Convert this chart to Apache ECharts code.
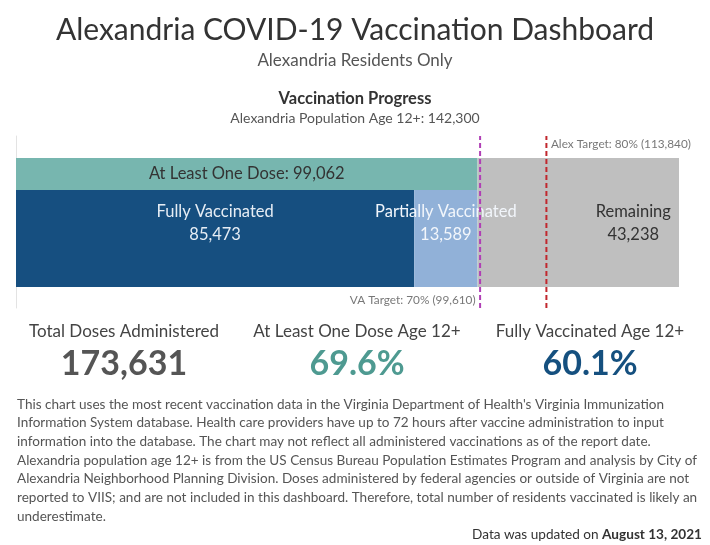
<!DOCTYPE html>
<html>
<head>
<meta charset="utf-8">
<script src="https://cdn.jsdelivr.net/npm/echarts@6/dist/echarts.min.js"></script>
<style>
html,body{margin:0;padding:0;background:#fff;}
#chart{width:710px;height:545px;}
</style>
</head>
<body>
<div id="chart"></div>
<script>
// ---- Data ----
const population = 142300;
const atLeastOneDose = [99062];
const fullyVaccinated = [85473];
const partiallyVaccinated = [13589];
const remaining = [43238];
const targetNames = ['VA Target: 70%', 'Alex Target: 80%'];
const targetValues = [99610, 113840];
const totalDoses = 173631;
const kpiLabels = ['Total Doses Administered', 'At Least One Dose Age 12+', 'Fully Vaccinated Age 12+'];
const updatedDate = 'August 13, 2021';

const FONT = 'Lato';
const fmt = v => v.toLocaleString('en-US');
const pct = v => (v / population * 100).toFixed(1) + '%';

const kpiValues = [fmt(totalDoses), pct(atLeastOneDose[0]), pct(fullyVaccinated[0])];
const kpiColors = ['#555555', '#4e9a91', '#15507f'];
const kpiX = [124, 357, 590];

const footnote = [
  "This chart uses the most recent vaccination data in the Virginia Department of Health's Virginia Immunization",
  "Information System database. Health care providers have up to 72 hours after vaccine administration to input",
  "information into the database. The chart may not reflect all administered vaccinations as of the report date.",
  "Alexandria population age 12+ is from the US Census Bureau Population Estimates Program and analysis by City of",
  "Alexandria Neighborhood Planning Division. Doses administered by federal agencies or outside of Virginia are not",
  "reported to VIIS; and are not included in this dashboard. Therefore, total number of residents vaccinated is likely an",
  "underestimate."
].join('\n');

const chart = echarts.init(document.getElementById('chart'), null, {renderer: 'canvas'});

const titles = [
  {text: 'Alexandria COVID-19 Vaccination Dashboard', left: 'center', top: 15,
   textStyle: {fontFamily: FONT, fontSize: 30, fontWeight: 'normal', color: '#333'}},
  {text: 'Alexandria Residents Only', left: 'center', top: 52,
   textStyle: {fontFamily: FONT, fontSize: 17, fontWeight: 'normal', color: '#555'}},
  {text: 'Vaccination Progress', left: 'center', top: 90,
   textStyle: {fontFamily: FONT, fontSize: 16.5, fontWeight: 'bold', color: '#333'}},
  {text: 'Alexandria Population Age 12+: ' + fmt(population), left: 'center', top: 111,
   textStyle: {fontFamily: FONT, fontSize: 14, fontWeight: 'normal', color: '#555'}},
  {text: footnote, left: 17, top: 395,
   textStyle: {fontFamily: FONT, fontSize: 13.55, fontWeight: 'normal', color: '#555', lineHeight: 18.65}},
  {text: '{a|Data was updated on }{b|' + updatedDate + '}', right: 8, top: 528,
   textStyle: {fontWeight: 'normal', rich: {
     a: {fontFamily: FONT, fontSize: 13.6, color: '#333', fontWeight: 'normal'},
     b: {fontFamily: FONT, fontSize: 13.6, color: '#333', fontWeight: 'bold'}
   }}}
];
kpiLabels.forEach((l, i) => {
  titles.push({text: l, left: kpiX[i], top: 323, textAlign: 'center',
    textStyle: {fontFamily: FONT, fontSize: 17, fontWeight: 'normal', color: '#444'}});
  titles.push({text: kpiValues[i], left: kpiX[i], top: 347, textAlign: 'center',
    textStyle: {fontFamily: FONT, fontSize: 34, fontWeight: 'bold', color: kpiColors[i]}});
});
titles.forEach(t => { t.padding = 0; });

const GL = 16, GW = 663;
const barLabel = (color, offset) => ({show: true, position: 'inside', color: color,
  fontFamily: FONT, fontSize: 16.5, lineHeight: 23, offset: offset});

const option = {
  animation: false,
  title: titles,
  grid: [
    {left: GL, width: GW, top: 158, height: 32},
    {left: GL, width: GW, top: 190, height: 97},
    {left: GL, width: GW, top: 136, height: 172}
  ],
  xAxis: [0, 1, 2].map(i => ({type: 'value', gridIndex: i, min: 0, max: population, show: false})),
  yAxis: [
    {type: 'category', gridIndex: 0, data: ['At Least One Dose'], show: false},
    {type: 'category', gridIndex: 1, data: ['Vaccinated'], show: false},
    {type: 'value', gridIndex: 2, min: 0, max: 1, axisLine: {show: true, lineStyle: {color: '#e3e3e3', width: 1}},
     axisTick: {show: false}, axisLabel: {show: false}, splitLine: {show: false}}
  ],
  series: [
    {type: 'bar', xAxisIndex: 0, yAxisIndex: 0, stack: 'top', barWidth: '100%', data: atLeastOneDose,
     itemStyle: {color: '#77b6af'},
     label: Object.assign(barLabel('#333333', [0, 0]), {formatter: p => 'At Least One Dose: ' + fmt(p.value)})},
    {type: 'bar', xAxisIndex: 0, yAxisIndex: 0, stack: 'top', barWidth: '100%', data: remaining,
     itemStyle: {color: '#bfbfbf'}},
    {type: 'bar', xAxisIndex: 1, yAxisIndex: 1, stack: 'bot', barWidth: '100%', data: fullyVaccinated,
     itemStyle: {color: '#164f80'},
     label: Object.assign(barLabel('#e6edf4', [0, -15]), {formatter: p => 'Fully Vaccinated\n' + fmt(p.value)})},
    {type: 'bar', xAxisIndex: 1, yAxisIndex: 1, stack: 'bot', barWidth: '100%', data: partiallyVaccinated,
     itemStyle: {color: '#91b1d8'},
     label: Object.assign(barLabel('#f2f6fb', [0, -15]), {formatter: p => 'Partially Vaccinated\n' + fmt(p.value)})},
    {type: 'bar', xAxisIndex: 1, yAxisIndex: 1, stack: 'bot', barWidth: '100%', data: remaining,
     itemStyle: {color: '#bfbfbf'},
     label: Object.assign(barLabel('#333333', [55, -15]), {formatter: p => 'Remaining\n' + fmt(p.value)})},
    // target lines
    {type: 'line', xAxisIndex: 2, yAxisIndex: 2, data: [[targetValues[0], 0], [targetValues[0], 1]],
     symbol: 'none', lineStyle: {color: '#b03fb5', width: 2, type: [5, 3]}, z: 5},
    {type: 'line', xAxisIndex: 2, yAxisIndex: 2, data: [[targetValues[1], 0], [targetValues[1], 1]],
     symbol: 'none', lineStyle: {color: '#c1272d', width: 2, type: [5, 3]}, z: 5},
    // target labels
    {type: 'scatter', xAxisIndex: 2, yAxisIndex: 2, symbolSize: 1, itemStyle: {color: 'rgba(0,0,0,0)'},
     data: [[targetValues[0], 0.045, 0]],
     label: {show: true, position: 'left', distance: 4, color: '#555', fontFamily: FONT, fontSize: 11.8,
       formatter: p => targetNames[0] + ' (' + fmt(targetValues[0]) + ')'}},
    {type: 'scatter', xAxisIndex: 2, yAxisIndex: 2, symbolSize: 1, itemStyle: {color: 'rgba(0,0,0,0)'},
     data: [[targetValues[1], 0.95, 1]],
     label: {show: true, position: 'right', distance: 4, color: '#555', fontFamily: FONT, fontSize: 11.8,
       formatter: p => targetNames[1] + ' (' + fmt(targetValues[1]) + ')'}}
  ]
};
chart.setOption(option);
</script>
</body>
</html>
